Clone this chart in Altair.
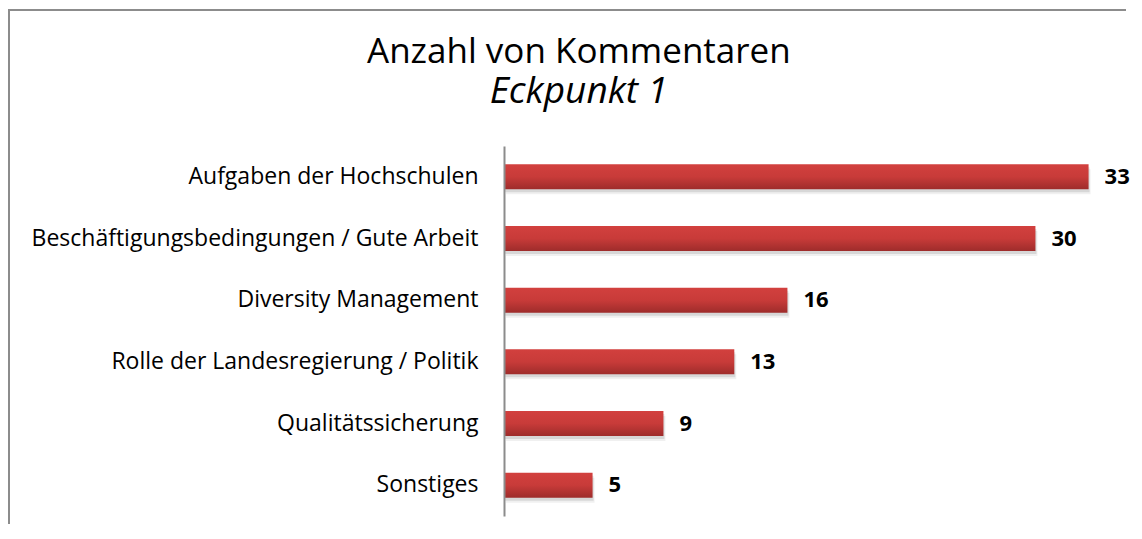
import altair as alt
import pandas as pd

categories = [
    "Aufgaben der Hochschulen",
    "Beschäftigungsbedingungen / Gute Arbeit",
    "Diversity Management",
    "Rolle der Landesregierung / Politik",
    "Qualitätssicherung",
    "Sonstiges",
]
values = [33, 30, 16, 13, 9, 5]
title_text = "Anzahl von Kommentaren"
subtitle_text = "Eckpunkt 1"

df = pd.DataFrame({"Thema": categories, "Anzahl": values})

W, H = 620, 370

y = alt.Y(
    "Thema:N",
    sort=categories,
    title=None,
    scale=alt.Scale(paddingInner=0.595, paddingOuter=0.2975),
    axis=alt.Axis(
        labelFont="Open Sans",
        labelFontSize=23,
        labelColor="black",
        labelPadding=26,
        labelLimit=600,
        ticks=False,
        grid=False,
        domainColor="#8c8c8c",
        domainWidth=2,
        zindex=1,
    ),
)
x = alt.X("Anzahl:Q", scale=alt.Scale(domain=[0, 35], nice=False), axis=None)

base = alt.Chart(df)
one = pd.DataFrame({"f": [0]})

frame_top = alt.Chart(one).mark_rule(color="#8c8c8c", strokeWidth=2).encode(
    x=alt.value(-495), x2=alt.value(W + 2), y=alt.value(-136)
)
frame_left = alt.Chart(one).mark_rule(color="#8c8c8c", strokeWidth=2).encode(
    x=alt.value(-495), y=alt.value(-137), y2=alt.value(H + 8)
)

shadow1 = base.mark_bar(color="#000000", opacity=0.06, yOffset=5, xOffset=2).encode(x=x, y=y)
shadow2 = base.mark_bar(color="#000000", opacity=0.10, yOffset=3, xOffset=1).encode(x=x, y=y)

bars = base.mark_bar(
    color=alt.Gradient(
        gradient="linear",
        stops=[
            alt.GradientStop(color="#d2403e", offset=0),
            alt.GradientStop(color="#c83b39", offset=0.5),
            alt.GradientStop(color="#9e2c2b", offset=1),
        ],
        x1=0, x2=0, y1=0, y2=1,
    )
).encode(x=x, y=y)

labels = base.mark_text(
    align="left", dx=16, font="Open Sans", fontSize=22, fontWeight="bold", color="black"
).encode(x=x, y=y, text="Anzahl:Q")

chart = (
    alt.layer(frame_top, frame_left, shadow1, shadow2, bars, labels)
    .properties(
        width=W,
        height=H,
        padding=0,
        title=alt.TitleParams(
            text=title_text,
            subtitle=subtitle_text,
            font="Open Sans",
            fontSize=35,
            fontWeight="normal",
            color="black",
            subtitleFont="Open Sans",
            subtitleFontSize=37,
            subtitleFontStyle="italic",
            subtitleColor="black",
            subtitlePadding=4,
            anchor="middle",
            frame="bounds",
            offset=-102,
            dx=10,
        ),
    )
    .configure(background="white")
    .configure_view(stroke="transparent", strokeWidth=0)
)

chart.save("out.html", embed_options={"renderer": "svg", "actions": False})
